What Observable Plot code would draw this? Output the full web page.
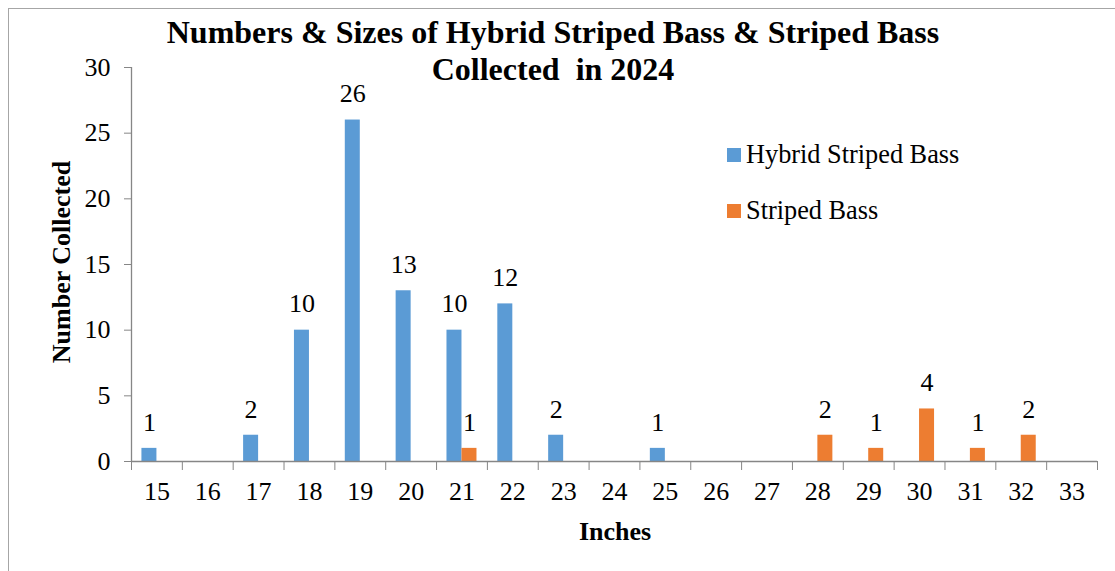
<!DOCTYPE html>
<html>
<head>
<meta charset="utf-8">
<script src="https://cdn.jsdelivr.net/npm/d3@7"></script>
<script src="https://cdn.jsdelivr.net/npm/@observablehq/plot@0.6"></script>
<style>
  html, body { margin: 0; padding: 0; background: #fff; }
  body { width: 1115px; height: 571px; overflow: hidden; position: relative; font-family: "Liberation Serif", "Times New Roman", serif; }
  #frame { position: absolute; left: 8px; top: 8px; width: 1200px; height: 700px; border: 1px solid #a6a6a6; box-sizing: border-box; }
  #chart { position: absolute; left: 0; top: 0; }
  #chart svg, #chart svg text { font-family: "Liberation Serif", "Times New Roman", serif !important; }
  #title { position: absolute; left: 0; width: 1106px; top: 14px; text-align: center; font-weight: bold; font-size: 32px; line-height: 37px; color: #000; }
  #ylabel { position: absolute; left: 62px; top: 262px; transform: translate(-50%, -50%) rotate(-90deg); font-weight: bold; font-size: 26px; white-space: nowrap; }
  #xlabel { position: absolute; left: 615px; top: 532px; transform: translate(-50%, -50%); font-weight: bold; font-size: 26px; white-space: nowrap; }
  .leg { position: absolute; left: 727px; font-size: 26.3px; white-space: nowrap; display: flex; align-items: center; }
  .leg span.sw { display: inline-block; width: 14px; height: 14px; margin-right: 5px; }
</style>
</head>
<body>
<div id="frame"></div>
<div id="chart"></div>
<div id="title">Numbers &amp; Sizes of Hybrid Striped Bass &amp; Striped Bass<br>Collected&nbsp; in 2024</div>
<div id="ylabel">Number Collected</div>
<div id="xlabel">Inches</div>
<div class="leg" id="leg1" style="top:140px"><span class="sw" style="background:#5B9BD5"></span>Hybrid Striped Bass</div>
<div class="leg" id="leg2" style="top:196px"><span class="sw" style="background:#ED7D31"></span>Striped Bass</div>
<script>
const inches = [15,16,17,18,19,20,21,22,23,24,25,26,27,28,29,30,31,32,33];
const hybrid = [1,0,2,10,26,13,10,12,2,0,1,0,0,0,0,0,0,0,0];
const striped = [0,0,0,0,0,0,1,0,0,0,0,0,0,2,1,4,1,2,0];
const yTicks = [0,5,10,15,20,25,30];
const seriesNames = ["Hybrid Striped Bass", "Striped Bass"];
const seriesColors = ["#5B9BD5", "#ED7D31"];

const half = 0.295;
const hybridData = inches.map((inch, i) => ({inch, count: hybrid[i]})).filter(d => d.count > 0);
const stripedData = inches.map((inch, i) => ({inch, count: striped[i]})).filter(d => d.count > 0);
const boundaries = inches.map(v => v - 0.5).concat([inches[inches.length - 1] + 0.5]);

const axisGray = "#868686";
const serif = "'Liberation Serif', 'Times New Roman', serif";

const chart = Plot.plot({
  width: 1115,
  height: 571,
  marginLeft: 131,
  marginRight: 18,
  marginTop: 67,
  marginBottom: 110,
  style: { fontFamily: serif, fontSize: "26px", color: "#000", background: "transparent" },
  x: { type: "linear", domain: [inches[0] - 0.5, inches[inches.length - 1] + 0.5] },
  y: { domain: [0, 30] },
  marks: [
    Plot.ruleX([inches[0] - 0.5], { stroke: axisGray, strokeWidth: 1.3 }),
    Plot.axisY({ ticks: yTicks, tickSize: 7, tickPadding: 14, stroke: axisGray, label: null, fontSize: 26, fontFamily: serif }),
    Plot.axisX({ ticks: boundaries, tickSize: 9, tickFormat: () => "", stroke: axisGray, label: null }),
    Plot.axisX({ ticks: inches, tickSize: 0, tickPadding: 20, tickFormat: d => String(d), label: null, fontSize: 26, fontFamily: serif }),
    Plot.rect(hybridData, { x1: d => d.inch - half, x2: d => d.inch, y1: 0, y2: "count", fill: seriesColors[0] }),
    Plot.rect(stripedData, { x1: d => d.inch, x2: d => d.inch + half, y1: 0, y2: "count", fill: seriesColors[1] }),
    Plot.ruleY([0], { stroke: axisGray, strokeWidth: 1.3 }),
    Plot.text(hybridData, { x: d => d.inch - half / 2, y: "count", text: d => String(d.count), dy: -26, fontSize: 26, fontFamily: serif }),
    Plot.text(stripedData, { x: d => d.inch + half / 2, y: "count", text: d => String(d.count), dy: -26, fontSize: 26, fontFamily: serif })
  ]
});
document.getElementById("chart").appendChild(chart);
</script>
</body>
</html>
